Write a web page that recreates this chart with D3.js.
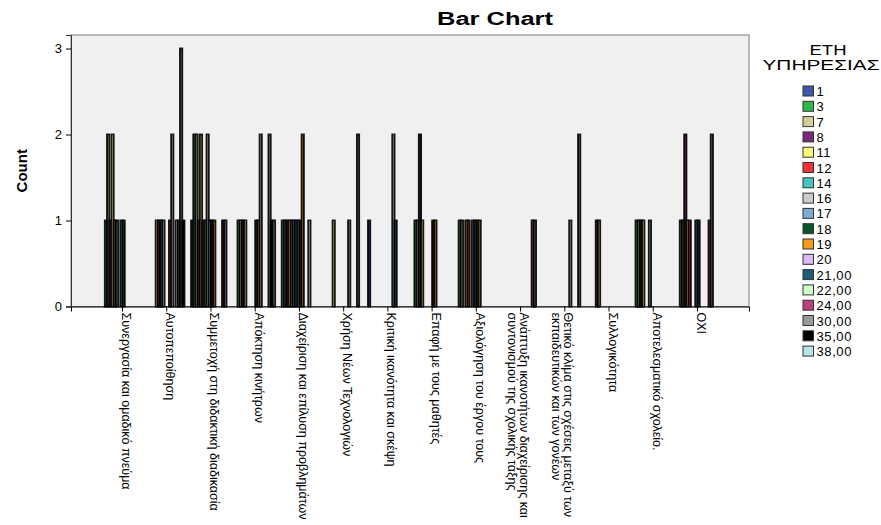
<!DOCTYPE html>
<html>
<head>
<meta charset="utf-8">
<script src="https://d3js.org/d3.v7.min.js"></script>
<style>
  body { margin: 0; background: #fff; }
  text { font-family: "Liberation Sans", Arial, sans-serif; }
</style>
</head>
<body>
<svg id="chart"></svg>
<script>
// categories (x axis), "\n" = line break
var categories = [
  "Συνεργασία και ομαδικό πνεύμα",
  "Αυτοπεποίθηση",
  "Συμμετοχή στη διδακτική διαδικασία",
  "Απόκτηση κινήτρων",
  "Διαχείριση και επίλυση προβλημάτων",
  "Χρήση Νέων Τεχνολογιών",
  "Κριτική ικανότητα και σκέψη",
  "Επαφή με τους μαθητές",
  "Αξιολόγηση του έργου τους",
  "Ανάπτυξη ικανοτήτων διαχείρισης και\nσυντονισμού της σχολικής τάξης",
  "Θετικό κλίμα στις σχέσεις μεταξύ των\nεκπαιδευτικών και των γονέων",
  "Συλλογικότητα",
  "Αποτελεσματικό σχολείο.",
  "ΟΧΙ"
];

// legend groups (ΕΤΗ ΥΠΗΡΕΣΙΑΣ)
var years = ["1","3","7","8","11","12","14","16","17","18","19","20",
             "21,00","22,00","24,00","30,00","35,00","38,00"];

var colors = ["#3E58AC","#2EB848","#D3CE97","#7C287D","#FBF873","#EF3338",
              "#48C2C5","#CCCCCC","#7AAAD5","#0A562C","#F8981D","#DDBAF1",
              "#1A5F76","#CCFFCC","#BB3F7F","#999999","#000000","#B6E7E8"];

// counts[group][category]
var counts = [
  [0,0,1,0,0,0,1,0,0,0,0,0,0,0],
  [1,0,2,1,1,0,0,1,1,0,0,0,1,1],
  [2,0,2,1,1,0,0,1,1,0,0,0,1,1],
  [1,0,1,1,1,0,0,2,0,0,0,1,1,2],
  [2,1,2,1,1,1,0,1,1,0,0,1,1,1],
  [1,1,1,0,1,0,0,0,1,0,0,0,0,1],
  [1,1,1,0,1,0,0,0,0,0,0,0,0,0],
  [0,1,2,0,1,0,0,0,1,0,0,0,1,0],
  [1,0,1,0,1,0,0,0,1,0,0,0,0,1],
  [1,0,1,1,1,0,0,1,1,0,0,0,0,1],
  [0,1,1,1,2,0,0,1,1,0,0,0,0,0],
  [0,2,0,2,0,1,2,0,0,0,1,0,0,0],
  [0,0,0,0,0,0,1,0,0,0,0,0,0,0],
  [0,1,0,0,1,0,0,0,0,0,0,0,0,0],
  [0,1,1,0,0,0,0,0,0,1,0,0,0,1],
  [0,3,1,2,0,2,0,0,0,1,2,0,0,2],
  [0,1,0,1,0,0,0,0,0,0,0,0,0,0],
  [0,0,0,1,0,0,0,0,0,0,0,0,0,0]
];

var yTicks = [0, 1, 2, 3];

var width = 881, height = 525;
var plot = {left: 71, right: 749, top: 35, bottom: 306.5};

var svg = d3.select("#chart")
  .attr("width", width)
  .attr("height", height);

var x = d3.scaleBand()
  .domain(d3.range(categories.length))
  .range([plot.left, plot.right])
  .paddingInner(0.1)
  .paddingOuter(0.715);

var xGroup = d3.scaleBand()
  .domain(d3.range(years.length))
  .range([0, x.bandwidth()]);

var y = d3.scaleLinear()
  .domain([0, 3.157])
  .range([plot.bottom, plot.top]);

// background
svg.append("rect")
  .attr("x", plot.left)
  .attr("y", plot.top)
  .attr("width", plot.right - plot.left)
  .attr("height", plot.bottom - plot.top)
  .attr("fill", "#f0f0f0")
  .attr("stroke", "#7a7a7a")
  .attr("stroke-width", 1);

// bars
var bars = [];
counts.forEach(function(row, g) {
  row.forEach(function(v, c) {
    if (v > 0) bars.push({g: g, c: c, v: v});
  });
});

svg.append("g").selectAll("rect")
  .data(bars)
  .enter().append("rect")
    .attr("x", function(d) { return x(d.c) + xGroup(d.g); })
    .attr("y", function(d) { return y(d.v); })
    .attr("width", xGroup.bandwidth())
    .attr("height", function(d) { return y(0) - y(d.v); })
    .attr("fill", function(d) { return colors[d.g]; })
    .attr("stroke", "#000")
    .attr("stroke-opacity", 0.9)
    .attr("stroke-width", 1.9);

// y axis
var yAxis = svg.append("g")
  .attr("transform", "translate(" + plot.left + ",0)")
  .call(d3.axisLeft(y).tickValues(yTicks).tickSize(5).tickPadding(4).tickFormat(d3.format("d")));
yAxis.select(".domain").attr("stroke", "#333");
yAxis.selectAll("text").style("font-size", "13px").attr("fill", "#000");

svg.append("text")
  .attr("transform", "translate(27," + ((plot.top + plot.bottom) / 2) + ") rotate(-90)")
  .attr("text-anchor", "middle")
  .style("font-size", "15px")
  .style("font-weight", "bold")
  .text("Count");

// x axis
var xAxis = svg.append("g")
  .attr("transform", "translate(0," + plot.bottom + ")")
  .call(d3.axisBottom(x).tickSize(5).tickFormat(""));
xAxis.select(".domain").attr("stroke", "#000");

categories.forEach(function(label, i) {
  var lines = label.split("\n");
  var t = svg.append("text")
    .attr("transform", "translate(" + (x(i) + x.bandwidth() / 2) + "," + (plot.bottom + 6) + ") rotate(90)")
    .attr("text-anchor", "start")
    .style("font-size", "12.5px");
  lines.forEach(function(line, k) {
    t.append("tspan")
      .attr("x", 0)
      .attr("y", k * 12.5 + 0.5)
      .text(line);
  });
});

// title
svg.append("text")
  .attr("x", 495)
  .attr("y", 25)
  .attr("text-anchor", "middle")
  .attr("textLength", 116)
  .attr("lengthAdjust", "spacingAndGlyphs")
  .style("font-size", "18px")
  .style("font-weight", "bold")
  .text("Bar Chart");

// legend
var legend = svg.append("g");
legend.append("text")
  .attr("x", 828).attr("y", 55)
  .attr("text-anchor", "middle")
  .attr("textLength", 37)
  .attr("lengthAdjust", "spacingAndGlyphs")
  .style("font-size", "14px")
  .text("ΕΤΗ");
legend.append("text")
  .attr("x", 821).attr("y", 69.5)
  .attr("text-anchor", "middle")
  .attr("textLength", 117)
  .attr("lengthAdjust", "spacingAndGlyphs")
  .style("font-size", "14px")
  .text("ΥΠΗΡΕΣΙΑΣ");

var item = legend.selectAll("g.item")
  .data(years)
  .enter().append("g")
    .attr("class", "item")
    .attr("transform", function(d, i) { return "translate(803," + (86 + i * 15.3) + ")"; });

item.append("rect")
  .attr("width", 10.5)
  .attr("height", 10)
  .attr("fill", function(d, i) { return colors[i]; })
  .attr("stroke", "#333")
  .attr("stroke-width", 1);

item.append("text")
  .attr("x", 13.5)
  .attr("y", 10)
  .style("font-size", "13px")
  .style("letter-spacing", "0.6px")
  .text(function(d) { return d; });
</script>
</body>
</html>
